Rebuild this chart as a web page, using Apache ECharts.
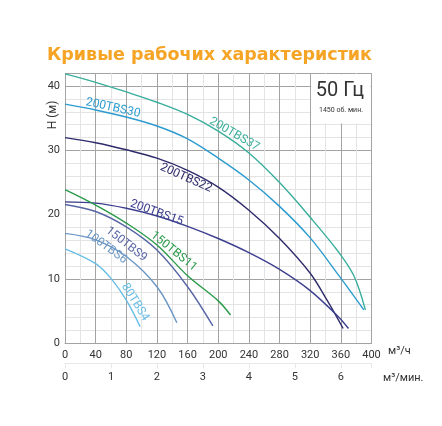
<!DOCTYPE html>
<html>
<head>
<meta charset="utf-8" />
<script src="https://cdn.jsdelivr.net/npm/echarts@6/dist/echarts.min.js"></script>
</head>
<body style="margin:0;background:#fff">
<div id="main" style="width:442px;height:426px;"></div>
<script>
// подача м3/ч -> напор м
var q37 = [0, 40, 80, 120, 160, 200, 240, 280, 320, 357, 377, 392];
var h37 = [41.9, 40.6, 39.1, 37.5, 35.6, 33.0, 29.6, 25.0, 19.6, 14.2, 10.5, 5.2];
var q30 = [0, 40, 80, 120, 160, 200, 240, 280, 320, 357, 390];
var h30 = [37.2, 36.3, 35.2, 33.8, 31.8, 28.8, 25.4, 21.3, 16.4, 10.6, 5.2];
var q22 = [0, 40, 80, 120, 160, 200, 240, 280, 320, 342, 363];
var h22 = [32.0, 31.2, 30.1, 28.8, 26.9, 24.3, 20.7, 16.3, 10.9, 6.7, 2.3];
var q15 = [0, 40, 80, 120, 160, 200, 240, 280, 320, 357, 370];
var h15 = [22.0, 21.8, 21.0, 19.8, 18.2, 16.3, 14.1, 11.5, 8.2, 4.1, 2.3];
var q11 = [0, 40, 80, 120, 160, 200, 216];
var h11 = [23.9, 21.5, 18.7, 15.3, 10.5, 6.6, 4.4];
var q9 = [0, 40, 80, 120, 160, 193];
var h9 = [21.6, 20.5, 18.1, 14.5, 8.8, 2.7];
var q6 = [0, 40, 80, 120, 146];
var h6 = [17.1, 16.1, 13.5, 8.8, 3.2];
var q4 = [0, 40, 60, 80, 98];
var h4 = [14.7, 12.4, 10.1, 6.7, 2.6];

var names = ['200TBS37', '200TBS30', '200TBS22', '200TBS15', '150TBS11', '150TBS9', '100TBS6', '80TBS4'];
var qs = [q37, q30, q22, q15, q11, q9, q6, q4];
var hs = [h37, h30, h22, h15, h11, h9, h6, h4];
var colors = ['#3aae9c', '#2b9bd0', '#2e2b6b', '#3d3f8f', '#2a9a4a', '#5866a6', '#6b96c4', '#68bde6'];

// где стоят подписи кривых: [Q, H, угол наклона]
var labelPos = [[221, 32.5, 30], [62.7, 36.6, 12.5], [158, 25.7, 24], [119.5, 20.3, 20],
                [142, 14.3, 39], [80, 15.4, 38], [53.5, 15.0, 36], [91.5, 6.4, 58]];

var major = '#a3a3a3', minor = '#e4e4e4';
var yLineColors = [];
for (var i = 0; i <= 21; i++) yLineColors.push(i % 5 === 0 ? major : minor);
yLineColors[10] = minor;
yLineColors[21] = major;

var myChart = echarts.init(document.getElementById('main'));

var series = names.map(function (n, k) {
  return {
    name: n,
    type: 'line',
    smooth: 0.35,
    showSymbol: false,
    lineStyle: { color: colors[k], width: 1.4 },
    data: qs[k].map(function (x, i) { return [x, hs[k][i]]; })
  };
});

option = {
  animation: false,
  grid: { left: 65, right: 70.5, top: 73.3, bottom: 82.7 },
  xAxis: [
    {
      type: 'value', min: 0, max: 400, interval: 20,
      axisLine: { lineStyle: { color: major } },
      axisTick: { show: false },
      axisLabel: {
        color: '#333', fontSize: 11, fontFamily: 'Roboto', margin: 6,
        formatter: function (v) { return v % 40 === 0 ? v : ''; }
      },
      splitLine: { show: true, lineStyle: { color: [major, minor], width: 1 } }
    },
    {
      type: 'value', min: 0, max: 400 / 60, interval: 1, position: 'bottom', offset: 20,
      axisLine: { onZero: false, lineStyle: { color: '#e8e8e8' } },
      axisTick: { show: true, length: 5, lineStyle: { color: '#e8e8e8' } },
      axisLabel: {
        color: '#333', fontSize: 11, fontFamily: 'Roboto', margin: 8,
        formatter: function (v) { return Number.isInteger(v) ? v : ''; }
      },
      splitLine: { show: false }
    }
  ],
  yAxis: {
    type: 'value', min: 0, max: 42, interval: 2,
    axisLine: { show: true, lineStyle: { color: major } },
    axisTick: { show: false },
    axisLabel: {
      color: '#333', fontSize: 11, fontFamily: 'Roboto', margin: 5,
      formatter: function (v) { return (v % 10 === 0 && v <= 40) ? v : ''; }
    },
    splitLine: { show: true, lineStyle: { color: yLineColors, width: 1 } }
  },
  series: series
};
myChart.setOption(option);

function px(q, h) { return myChart.convertToPixel({ seriesIndex: 0 }, [q, h]); }

var g = [];
var p1 = px(320, 42), p2 = px(400, 34.2);
g.push({ type: 'rect', z: 50, shape: { x: p1[0] + 1, y: p1[1] + 1, width: p2[0] - p1[0] - 2, height: p2[1] - p1[1] - 1 }, style: { fill: '#fff' } });
g.push({ type: 'text', z: 60, x: 340, y: 91, style: { text: '50 Гц', fontSize: 20, fontFamily: 'Roboto', fill: '#333', align: 'center', verticalAlign: 'middle' } });
g.push({ type: 'text', z: 60, x: 341, y: 110, style: { text: '1450 об. мин.', fontSize: 7, fontFamily: 'Roboto', fill: '#333', align: 'center', verticalAlign: 'middle' } });
g.push({ type: 'text', z: 60, x: 47, y: 55, style: { text: 'Кривые рабочих характеристик', fontSize: 17.5, fontWeight: 'bold', fontFamily: 'DejaVu Sans', fill: '#f5a425', verticalAlign: 'middle' } });
g.push({ type: 'text', z: 60, x: 53, y: 115, rotation: Math.PI / 2, style: { text: 'H (м)', fontSize: 12, fontFamily: 'Roboto', fill: '#333', align: 'center', verticalAlign: 'middle' } });
g.push({ type: 'text', z: 60, x: 388, y: 351, style: { text: 'м³/ч', fontSize: 11, fontFamily: 'Roboto', fill: '#333', verticalAlign: 'middle' } });
g.push({ type: 'text', z: 60, x: 383, y: 378, style: { text: 'м³/мин.', fontSize: 11, fontFamily: 'Roboto', fill: '#333', verticalAlign: 'middle' } });

labelPos.forEach(function (lp, k) {
  var p = px(lp[0], lp[1]);
  g.push({
    type: 'text', z: 60, x: p[0], y: p[1], rotation: -lp[2] * Math.PI / 180,
    style: { text: names[k], fontSize: 12, fontFamily: 'Roboto', fill: colors[k], align: 'center', verticalAlign: 'middle' }
  });
});

myChart.setOption({ graphic: g });
</script>
</body>
</html>
